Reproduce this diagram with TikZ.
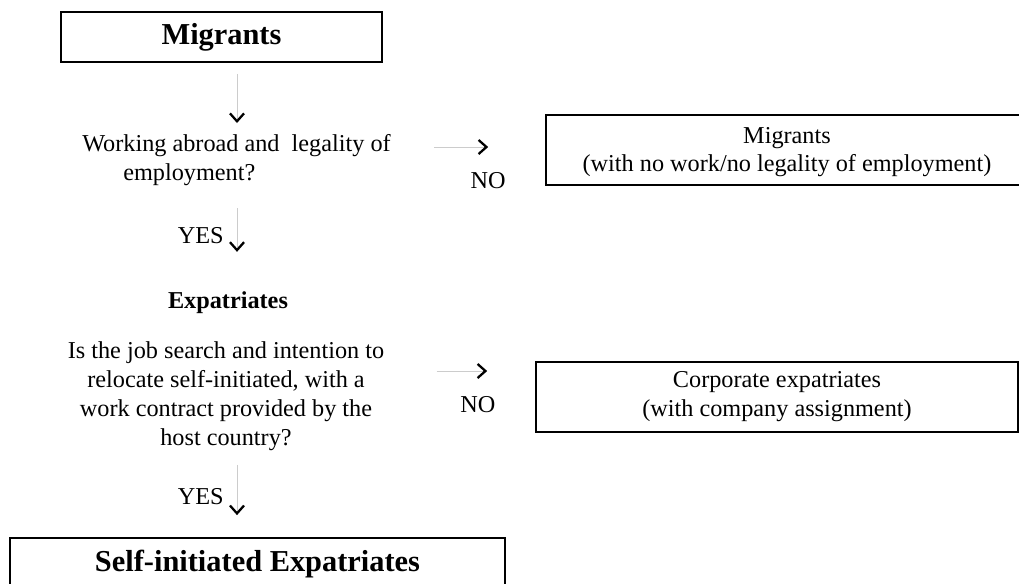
\documentclass[tikz,border=0pt]{standalone}
\usepackage{fontspec}
\setmainfont{Liberation Serif}
\usetikzlibrary{arrows.meta,positioning}

\begin{document}
\begin{tikzpicture}[x=0.02cm,y=-0.02cm,
   every node/.style={font=\fontsize{13.8}{16.5}\selectfont},
   bigbox/.style={draw,line width=1pt,font=\fontsize{17.3}{20}\selectfont\bfseries},
   sidebox/.style={draw,line width=1pt,minimum width=9.64cm,minimum height=1.4cm,align=center},
   question/.style={inner sep=0pt,align=center},
   flow/.style={draw=gray!40,line width=0.5pt,-{Straight Barb[color=black,length=4.5pt,width=8pt,line width=1.3pt]}}]
   \useasboundingbox (0,0) rectangle (1019,583);
   \coordinate (col) at (237,0);
   % left column
   \node[bigbox,minimum width=6.42cm,minimum height=1cm] (migrants) at (221.5,37) {Migrants};
   \node[question,align=left] (qone) at (236.5,160) {Working abroad and\ \ legality of\\\hspace*{0.82cm}employment?};
   \node[font=\fontsize{13.8}{16.5}\selectfont\bfseries] (expat) at (228,303) {Expatriates};
   \node[question] (qtwo) at (226,396) {Is the job search and intention to\\relocate self-initiated, with a\\work contract provided by the\\host country?};
   \node[bigbox,minimum width=9.9cm,minimum height=1.04cm] (selfinit) at (257.5,564) {Self-initiated Expatriates};
   % right column
   \node[sidebox] (nowork) at (787,150) {\\[-5pt]Migrants\\(with no work/no legality of employment)};
   \node[sidebox] (corporate) at (777,397) {Corporate expatriates\\(with company assignment)};
    \draw[flow,shorten <=0.22cm,shorten >=0.22cm] (migrants.south -| col) -- (qone.north -| col);
    \draw[flow,shorten <=0.44cm,shorten >=0.68cm] (qone.south -| col)
          -- node[pos=0.5,left=0.14cm] (yesone) {YES} (expat.north -| col);
    \draw[flow,shorten <=0.28cm,shorten >=0.44cm] (qtwo.south -| col)
          -- node[pos=0.535,left=0.14cm] (yestwo) {YES} (selfinit.north -| col);
    \draw[flow,shorten <=0.86cm,shorten >=1.14cm] ([yshift=0.26cm]qone.east)
          -- node[pos=0.63,below=0.38cm] (noone) {NO} ([yshift=0.26cm]qone.east -| nowork.west);
    \draw[flow,shorten <=1.04cm,shorten >=0.96cm] ([yshift=0.5cm]qtwo.east)
          -- node[pos=0.62,below=0.38cm] (notwo) {NO} ([yshift=0.5cm]qtwo.east -| corporate.west);
\end{tikzpicture}
\end{document}
